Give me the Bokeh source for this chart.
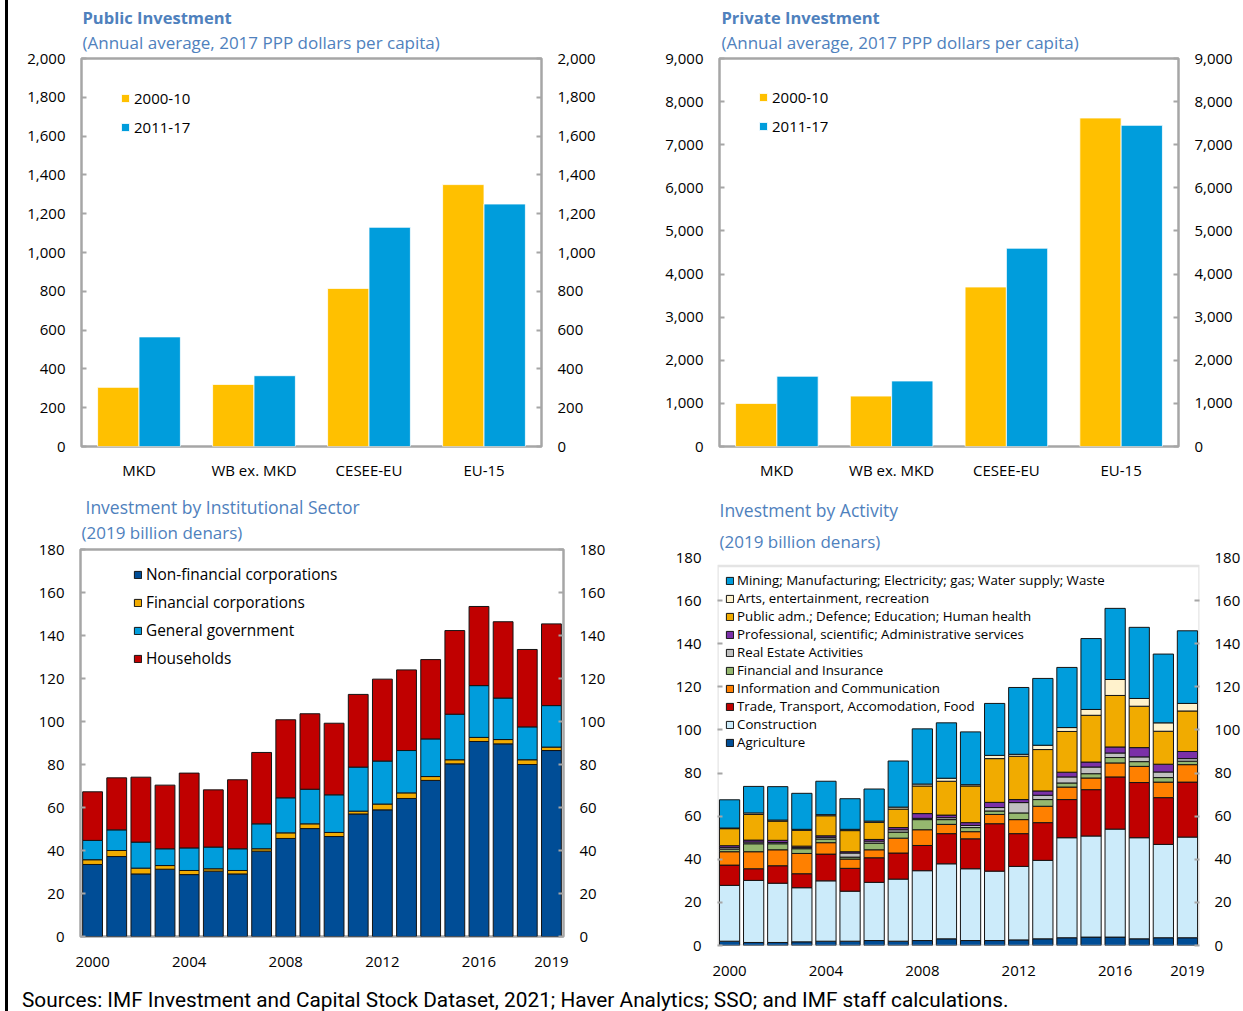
from bokeh.plotting import figure
from bokeh.models import (FactorRange, Range1d, LinearAxis, FixedTicker, NumeralTickFormatter,
                          Legend, LegendItem, Div, BoxAnnotation, ColumnDataSource, Spacer, Title)
from bokeh.layouts import row, column
from bokeh.transform import dodge
from bokeh.embed import file_html
from bokeh.resources import INLINE

# ---------------- data ----------------
countries = ["MKD", "WB ex. MKD", "CESEE-EU", "EU-15"]
periods = ["2000-10", "2011-17"]
public_2000_10 = [305, 320, 815, 1350]
public_2011_17 = [565, 365, 1130, 1250]
private_2000_10 = [1000, 1170, 3700, 7620]
private_2011_17 = [1630, 1520, 4600, 7450]

years = list(range(2000, 2020))
year_ticks = [2000, 2004, 2008, 2012, 2016, 2019]

sector_names = ["Non-financial corporations", "Financial corporations", "General government", "Households"]
nonfin_corp = [33.5, 37.2, 29.1, 31.3, 28.8, 30.4, 29.1, 39.7, 45.6, 50.2, 46.5, 57.0, 58.9, 64.2, 72.6, 80.3, 90.7, 89.6, 80.0, 86.5]
fin_corp = [2.2, 2.8, 2.7, 1.7, 1.9, 1.1, 1.6, 1.1, 2.6, 2.2, 1.9, 1.3, 2.7, 2.6, 1.8, 1.9, 1.9, 2.0, 2.2, 1.6]
gen_gov = [9.0, 9.6, 12.1, 7.8, 10.5, 10.1, 10.1, 11.6, 16.3, 16.1, 17.5, 20.5, 20.0, 19.7, 17.5, 21.2, 24.1, 19.3, 15.3, 19.3]
households = [22.6, 24.2, 30.2, 29.6, 34.8, 26.6, 32.1, 33.2, 36.3, 35.1, 33.3, 33.8, 38.1, 37.5, 36.9, 38.9, 36.8, 35.5, 36.0, 38.0]

activity_names = ["Agriculture", "Construction", "Trade, Transport, Accomodation, Food",
                  "Information and Communication", "Financial and Insurance", "Real Estate Activities",
                  "Professional, scientific; Administrative services",
                  "Public adm.; Defence; Education; Human health",
                  "Arts, entertainment, recreation",
                  "Mining; Manufacturing; Electricity; gas; Water supply; Waste"]
agriculture = [2.0, 1.4, 1.4, 1.7, 2.0, 2.0, 2.3, 2.0, 2.3, 3.1, 2.3, 2.3, 2.6, 3.1, 3.6, 3.9, 3.9, 3.1, 3.6, 3.6]
construction = [25.9, 28.8, 27.5, 25.1, 28.0, 23.2, 27.0, 28.8, 32.4, 34.8, 33.3, 32.2, 34.1, 36.4, 46.4, 46.9, 50.1, 46.9, 43.3, 46.7]
trade = [9.4, 5.4, 8.1, 6.5, 12.4, 10.6, 11.4, 12.1, 11.7, 14.0, 13.9, 22.0, 15.2, 17.5, 17.7, 21.5, 24.2, 25.6, 21.7, 25.5]
information = [6.2, 7.9, 7.4, 9.4, 5.3, 4.3, 3.7, 6.9, 7.3, 4.3, 3.3, 4.3, 6.5, 7.6, 5.8, 5.4, 6.5, 7.5, 7.2, 8.1]
financial = [1.2, 3.7, 2.8, 2.2, 1.7, 0.9, 3.1, 2.8, 4.7, 2.2, 1.9, 1.6, 3.1, 3.1, 1.9, 2.0, 2.5, 2.2, 2.1, 1.6]
real_estate = [0.7, 0.8, 0.6, 0.5, 0.8, 1.9, 0.9, 1.1, 0.6, 0.9, 1.0, 1.6, 4.8, 2.0, 2.8, 3.1, 2.1, 2.2, 2.6, 1.2]
professional = [0.9, 0.9, 1.0, 0.7, 0.7, 0.6, 0.8, 1.0, 2.2, 1.2, 1.3, 2.4, 1.4, 2.0, 2.2, 2.3, 2.8, 4.3, 3.6, 3.3]
public_adm = [7.9, 11.9, 8.9, 7.3, 9.3, 9.8, 7.9, 8.6, 12.8, 15.7, 17.0, 20.3, 20.1, 19.2, 18.9, 21.7, 23.9, 19.2, 15.3, 18.8]
arts = [0.3, 0.7, 0.5, 0.5, 0.5, 0.6, 0.6, 0.9, 0.9, 1.4, 0.6, 1.5, 0.9, 2.0, 1.8, 2.7, 7.4, 3.6, 3.9, 3.5]
mining = [13.1, 12.3, 15.5, 16.7, 15.5, 14.2, 14.9, 21.4, 25.6, 25.7, 24.5, 24.1, 31.0, 31.0, 27.9, 32.9, 33.0, 33.0, 31.9, 33.7]

# ---------------- style ----------------
FONT = "Open Sans"
GRAY = "#A6A6A6"
TITLE_COLOR = "#4F81BD"
YELLOW = "#FFC000"
BLUE = "#009DDC"
sector_colors = ["#004D96", "#F1AB00", "#009DDC", "#C00000"]
activity_colors = ["#004D96", "#CCEBFA", "#C00000", "#FF8000", "#95B86F", "#C0C0C0",
                   "#7B30A8", "#F1AB00", "#FFF2CC", "#009DDC"]


def base_fig(width, height, x_range, y_range, lb, rb, tb, bb):
    p = figure(width=width, height=height, x_range=x_range, y_range=y_range,
               output_backend="svg", toolbar_location=None, title=None,
               min_border_left=lb, min_border_right=rb, min_border_top=tb, min_border_bottom=bb,
               frame_align=False)
    p.xgrid.visible = False
    p.ygrid.visible = False
    p.outline_line_color = GRAY
    p.outline_line_width = 2.5
    p.background_fill_color = "white"
    p.border_fill_color = "white"
    return p


def add_titles(p, title, subtitle, t_off, s_off, t_size, s_size, t_stand, s_stand, bold):
    # subtitle first: it sits next to the frame; main title is stacked above it
    p.add_layout(Title(text=subtitle, align="left", offset=s_off, standoff=s_stand,
                       text_font=FONT, text_font_size=s_size, text_font_style="normal",
                       text_color=TITLE_COLOR), "above")
    p.add_layout(Title(text=title, align="left", offset=t_off, standoff=t_stand,
                       text_font=FONT, text_font_size=t_size,
                       text_font_style="bold" if bold else "normal",
                       text_color=TITLE_COLOR), "above")


def style_y(ax, standoff=16):
    ax.axis_line_color = None
    ax.major_tick_in = 5
    ax.major_tick_out = 0
    ax.major_tick_line_color = GRAY
    ax.major_tick_line_width = 2
    ax.minor_tick_in = 5
    ax.minor_tick_out = 0
    ax.minor_tick_line_color = None
    ax.minor_tick_line_width = 2
    ax.major_label_text_font = FONT
    ax.major_label_text_font_size = "15px"
    ax.major_label_text_color = "black"
    ax.major_label_standoff = standoff


def style_x(ax, standoff=14):
    ax.axis_line_color = None
    ax.major_tick_line_color = None
    ax.minor_tick_line_color = None
    ax.major_label_text_font = FONT
    ax.major_label_text_font_size = "15px"
    ax.major_label_text_color = "black"
    ax.major_label_standoff = standoff


def add_y_axes(p, ticks, fmt=None, right_standoff=16, marked=None):
    def ticker():
        if marked is None:
            return FixedTicker(ticks=ticks)
        return FixedTicker(ticks=ticks, minor_ticks=marked)
    p.yaxis.ticker = ticker()
    if fmt:
        p.yaxis.formatter = NumeralTickFormatter(format=fmt)
        right = LinearAxis(ticker=ticker(), formatter=NumeralTickFormatter(format=fmt))
    else:
        right = LinearAxis(ticker=ticker())
    p.add_layout(right, "right")
    axes = [p.yaxis[0], right]
    style_y(axes[0])
    style_y(axes[1], right_standoff)
    if marked is not None:
        # tick marks only where the box is drawn
        for ax in axes:
            ax.major_tick_line_color = None
            ax.minor_tick_line_color = GRAY


SUB_TOP = "(Annual average, 2017 PPP dollars per capita)"


def pair_chart(width, lb, rb, title, v1, v2, ymax, step, t_off, legend_loc):
    p = base_fig(width, 490, FactorRange(factors=countries), Range1d(0, ymax), lb, rb, 58, 44)
    src = ColumnDataSource(dict(cat=countries, a=v1, b=v2))
    r1 = p.vbar(x=dodge("cat", -0.18, range=p.x_range), top="a", width=0.36, source=src,
                fill_color=YELLOW, line_color="white", line_width=0.8)
    r2 = p.vbar(x=dodge("cat", 0.18, range=p.x_range), top="b", width=0.36, source=src,
                fill_color=BLUE, line_color="white", line_width=0.8)
    add_y_axes(p, list(range(0, ymax + 1, step)), "0,0")
    style_x(p.xaxis[0], 7)
    add_titles(p, title, SUB_TOP, t_off, t_off, "16.5px", "17px", -9, 9, True)
    leg = Legend(items=[LegendItem(label=periods[0], renderers=[r1]),
                        LegendItem(label=periods[1], renderers=[r2])],
                 location=legend_loc, glyph_width=10, glyph_height=10, label_standoff=4,
                 spacing=9, padding=0, margin=0, label_height=20,
                 border_line_color=None, background_fill_alpha=0,
                 label_text_font=FONT, label_text_font_size="15px", label_text_color="black")
    p.add_layout(leg)
    return p


tl = pair_chart(608, 73, 75, "Public Investment", public_2000_10, public_2011_17, 2000, 200, 1, (39, 309))
tr = pair_chart(627, 103, 65, "Private Investment", private_2000_10, private_2011_17, 9000, 1000, 2, (39, 310))

# ---- bottom left: institutional sector ----
bl = base_fig(608, 495, Range1d(1999.5, 2019.5), Range1d(0, 180), 72, 53, 59, 49)
src_bl = ColumnDataSource({"year": years, sector_names[0]: nonfin_corp, sector_names[1]: fin_corp,
                           sector_names[2]: gen_gov, sector_names[3]: households})
rs_bl = bl.vbar_stack(sector_names, x="year", width=0.82, color=sector_colors, source=src_bl,
                      line_color="#141414", line_width=1)
add_y_axes(bl, list(range(0, 181, 20)))
bl.xaxis.ticker = FixedTicker(ticks=year_ticks)
style_x(bl.xaxis[0])
add_titles(bl, "Investment by Institutional Sector", "(2019 billion denars)", 5, 1,
           "17.5px", "17px", -10, 11, False)
leg_bl = Legend(items=[LegendItem(label=n, renderers=[r]) for n, r in zip(sector_names, rs_bl)],
                location=(53, 267), glyph_width=9, glyph_height=9, label_standoff=4,
                spacing=7, padding=0, margin=0, label_height=20,
                border_line_color=None, background_fill_alpha=0,
                label_text_font=FONT, label_text_font_size="15.4px", label_text_color="black")
bl.add_layout(leg_bl)

# ---- bottom right: activity ----
br = base_fig(627, 495, Range1d(1999.5, 2019.5), Range1d(0, 180), 101, 42, 67, 40)
br.outline_line_color = None
src_br = ColumnDataSource({"year": years,
                           activity_names[0]: agriculture, activity_names[1]: construction,
                           activity_names[2]: trade, activity_names[3]: information,
                           activity_names[4]: financial, activity_names[5]: real_estate,
                           activity_names[6]: professional, activity_names[7]: public_adm,
                           activity_names[8]: arts, activity_names[9]: mining})
rs_br = br.vbar_stack(activity_names, x="year", width=0.84, color=activity_colors, source=src_br,
                      line_color="#141414", line_width=1)
add_y_axes(br, list(range(0, 181, 20)), right_standoff=15, marked=list(range(0, 161, 20)))
br.xaxis.ticker = FixedTicker(ticks=year_ticks)
style_x(br.xaxis[0])
br.add_layout(BoxAnnotation(bottom=0, top=176, fill_color=None, line_color=GRAY, line_width=2.5))
add_titles(br, "Investment by Activity", "(2019 billion denars)", 2, 2,
           "17.5px", "17px", 4, 9, False)
leg_br = Legend(items=[LegendItem(label=n, renderers=[r]) for n, r in
                       reversed(list(zip(activity_names, rs_br)))],
                location=(8, 194), glyph_width=9, glyph_height=9, label_standoff=3,
                spacing=0, padding=0, margin=0, label_height=14,
                border_line_color=None, background_fill_alpha=0,
                label_text_font=FONT, label_text_font_size="13.3px", label_text_color="black")
br.add_layout(leg_br)

sources = Div(text='<div style="font-family:Roboto; font-size:20.8px; line-height:28px; '
                   'padding:1px 0 0 14px; white-space:nowrap; color:black;">'
                   'Sources: IMF Investment and Capital Stock Dataset, 2021; Haver Analytics; SSO; '
                   'and IMF staff calculations.</div>',
              width=1235, height=26, margin=0, styles={"overflow": "hidden"})

bar = Div(text="", width=3, height=1011, margin=0, styles={"background-color": "black"})

layout = row(Spacer(width=5, height=1011, margin=0), bar,
             column(row(tl, tr), row(bl, br), sources))

open("out.html", "w").write(file_html(layout, INLINE))
